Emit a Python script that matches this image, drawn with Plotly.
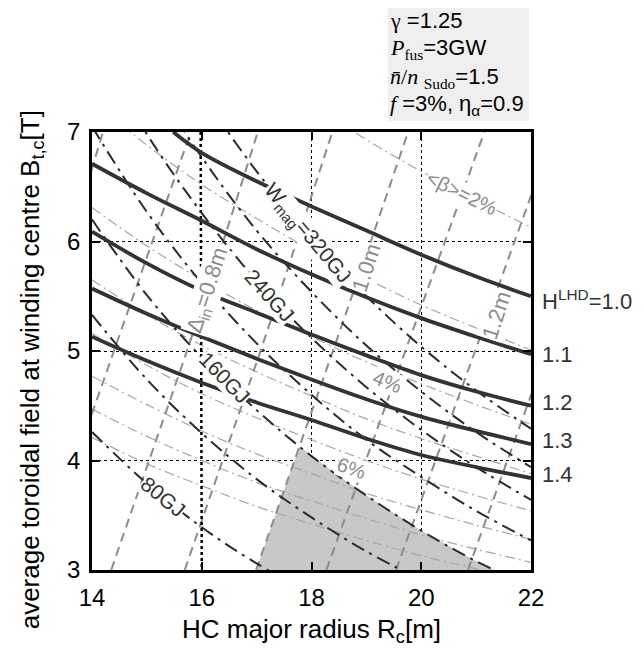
import plotly.graph_objects as go

# ---------------- data ----------------
R_GRID = [14, 15, 16, 17, 18, 19, 20, 21, 22]

# H^LHD contours (thick)
H10_R = [15.48, 16, 17, 18, 19, 20, 21, 22]
H10_B = [7.00, 6.81, 6.55, 6.32, 6.10, 5.88, 5.68, 5.50]
H11_B = [6.71, 6.44, 6.19, 5.93, 5.70, 5.49, 5.30, 5.13, 4.97]
H12_B = [6.09, 5.80, 5.55, 5.35, 5.15, 4.96, 4.78, 4.63, 4.50]
H13_B = [5.57, 5.34, 5.13, 4.93, 4.74, 4.56, 4.40, 4.27, 4.15]
H14_B = [5.13, 4.91, 4.71, 4.53, 4.37, 4.20, 4.05, 3.94, 3.84]
H_LABELS = ["H<sup>LHD</sup>=1.0", "1.1", "1.2", "1.3", "1.4"]
H_LABEL_B = [5.47, 4.97, 4.53, 4.18, 3.87]

# W_mag contours (black dash-dot), GJ
W80_B = [4.26, 3.79, 3.39, 3.06, 2.78]
W120_B = [5.33, 4.74, 4.25, 3.83, 3.48, 3.17, 2.91]
W160_B = [6.20, 5.51, 4.94, 4.46, 4.04, 3.68, 3.36, 3.08, 2.85]
W200_B = [7.05, 6.27, 5.62, 5.07, 4.60, 4.19, 3.85, 3.54, 3.27]
W240_B = [7.85, 6.98, 6.26, 5.64, 5.12, 4.67, 4.28, 3.94, 3.64]
W280_B = [8.49, 7.55, 6.77, 6.10, 5.54, 5.05, 4.63, 4.26, 3.94]
W320_B = [9.24, 8.22, 7.36, 6.64, 6.03, 5.50, 5.04, 4.64, 4.29]

# Delta_in contours (grey dashed): R at B = 3,4,5,6,7
D_B = [3, 4, 5, 6, 7]
D06_R = [11.6, 12.3, 13.0, 13.6, 14.2]
D07_R = [13.0, 13.7, 14.4, 15.1, 15.8]
D08_R = [14.35, 15.04, 15.73, 16.39, 17.02]
D09_R = [15.69, 16.38, 17.07, 17.73, 18.38]
D10_R = [16.99, 17.69, 18.39, 19.08, 19.76]
D11_R = [18.27, 18.99, 19.71, 20.43, 21.15]
D12_R = [19.54, 20.26, 20.98, 21.70, 22.42]
D13_R = [20.85, 21.57, 22.29, 23.00, 23.70]

# <beta> contours (thin grey dash-dot), %
B2_B = [8.93, 8.43, 7.99, 7.60, 7.25, 6.93, 6.64, 6.38, 6.13]
B3_B = [7.29, 6.88, 6.52, 6.21, 5.92, 5.66, 5.42, 5.21, 5.01]
B4_B = [6.31, 5.96, 5.65, 5.37, 5.13, 4.90, 4.70, 4.51, 4.33]
B5_B = [5.65, 5.33, 5.05, 4.81, 4.59, 4.38, 4.20, 4.04, 3.88]
B6_B = [5.16, 4.87, 4.61, 4.39, 4.19, 4.00, 3.83, 3.68, 3.54]
B7_B = [4.77, 4.51, 4.27, 4.06, 3.88, 3.70, 3.55, 3.41, 3.28]
B8_B = [4.47, 4.22, 4.00, 3.80, 3.63, 3.47, 3.32, 3.19, 3.07]
B9_B = [4.21, 3.97, 3.77, 3.58, 3.42, 3.27, 3.13, 3.01, 2.89]

# neutron wall load <Gamma_nw> = 1.5 MW/m2 (vertical dotted)
GNW_R = [15.98, 16.0]
GNW_B = [7.0, 3.0]

# shaded (allowed) region
SHADE_R = [16.99, 17.78, 18.0, 19.0, 20.0, 21.0, 21.33]
SHADE_B = [3.0, 4.13, 4.04, 3.68, 3.36, 3.08, 3.0]

X_TICKS = [14, 16, 18, 20, 22]
Y_TICKS = [3, 4, 5, 6, 7]

FONT = "Liberation Sans, Arial, sans-serif"
SERIF = "Liberation Serif"

fig = go.Figure()

def line(x, y, color, width, dash, shape="spline"):
    fig.add_trace(go.Scatter(x=x, y=y, mode="lines", hoverinfo="skip",
                             line=dict(color=color, width=width, dash=dash, shape=shape),
                             showlegend=False))

# shaded region
fig.add_trace(go.Scatter(x=SHADE_R, y=SHADE_B, fill="toself", fillcolor="#c8c8c8",
                         mode="lines", line=dict(width=0), hoverinfo="skip", showlegend=False))

BETA_DASH = "10px,4px,2px,4px"
for b in [B2_B, B3_B, B4_B, B5_B, B6_B, B7_B, B8_B, B9_B]:
    line(R_GRID, b, "#a6a6a6", 1.2, BETA_DASH)

D_DASH = "9px,6px"
for d in [D06_R, D07_R, D08_R, D09_R, D10_R, D11_R, D12_R, D13_R]:
    line(d, D_B, "#8c8c8c", 2, D_DASH)

line(GNW_R, GNW_B, "#000000", 2.5, "dot", "linear")

W_DASH = "14px,6px,3px,6px"
for w in [W80_B, W120_B, W160_B, W200_B, W240_B, W280_B, W320_B]:
    line(R_GRID[:len(w)], w, "#2b2b2b", 2, W_DASH)

line(H10_R, H10_B, "#333333", 3.8, "solid")
for h in [H11_B, H12_B, H13_B, H14_B]:
    line(R_GRID, h, "#333333", 3.8, "solid")

ann = []
def label(x, y, text, angle, color, size=21, bg="white"):
    ann.append(dict(x=x, y=y, xref="x", yref="y", text=text, textangle=angle,
                    showarrow=False, font=dict(family=FONT, size=size, color=color),
                    bgcolor=bg, borderpad=0))

# W_mag labels
label(15.29, 3.67, "80GJ", 39, "#333333")
label(16.42, 4.76, "160GJ", 46, "#333333")
label(17.24, 5.51, "240GJ", 48, "#333333")
label(17.93, 6.07, "W<sub>mag</sub>=320GJ", 50, "#333333")
# Delta_in labels
label(16.11, 5.55, "Δ<sub>in</sub>=0.8m", -72, "#8c8c8c", 22)
label(19.0, 5.76, "1.0m", -72, "#8c8c8c", 22)
label(21.38, 5.33, "1.2m", -72, "#8c8c8c", 22)
# beta labels
label(20.74, 6.44, "&lt;β&gt;=2%", 26, "#8c8c8c", 20)
label(19.39, 4.72, "4%", 22, "#8c8c8c", 20)
label(18.72, 3.93, "6%", 19, "#8c8c8c", 20)

# Gamma_nw label
ann.append(dict(x=16.2, y=7.21, xref="x", yref="y", showarrow=False,
                text="&lt;Γ<sub>nw</sub>&gt;=1.5MW/m<sup>2</sup>",
                font=dict(family=FONT, size=20, color="#333333")))

# H labels on the right
for t, yb in zip(H_LABELS, H_LABEL_B):
    ann.append(dict(x=1.0, y=yb, xref="paper", yref="y", xanchor="left", xshift=9,
                    showarrow=False, text=t, font=dict(family=FONT, size=22, color="#333333")))

# parameter box
box_lines = [
    f'<span style="font-family:{SERIF}">γ</span> =1.25',
    f'<span style="font-family:{SERIF}"><i>P</i><sub>fus</sub></span>=3GW',
    f'<span style="font-family:{SERIF}"><i>n̄</i>/<i>n</i> <sub>Sudo</sub></span>=1.5',
    f'<span style="font-family:{SERIF}"><i>f</i></span> =3%, η<sub>α</sub>=0.9',
]
box_y = [1.254, 1.190, 1.123, 1.061]
for t, yy in zip(box_lines, box_y):
    ann.append(dict(x=0.674, y=yy, xref="paper", yref="paper", xanchor="left", yanchor="middle",
                    showarrow=False, text=t, font=dict(family=FONT, size=22, color="#000000")))

# axis titles
ann.append(dict(x=0.5, y=-0.095, xref="paper", yref="paper", yanchor="top", showarrow=False,
                text="HC major radius R<sub>c</sub>[m]", font=dict(family=FONT, size=26, color="#000")))
ann.append(dict(x=-0.18, y=0.457, xref="paper", yref="paper", showarrow=False, textangle=-90,
                text="average toroidal field at winding centre B<sub>t,c</sub>[T]",
                font=dict(family=FONT, size=26, color="#000")))

fig.update_layout(
    width=634, height=641, autosize=False,
    margin=dict(l=84, r=111, t=124, b=79),
    paper_bgcolor="white", plot_bgcolor="white",
    font=dict(family=FONT, size=24, color="#000"),
    annotations=ann,
    shapes=[dict(type="rect", xref="paper", yref="paper", x0=0.674, x1=0.995, y0=1.025, y1=1.299,
                 fillcolor="#efefef", line=dict(width=0), layer="below")],
)
axis_common = dict(showline=True, linecolor="black", linewidth=2.5, mirror="ticks",
                   ticks="inside", ticklen=8, tickwidth=2, tickcolor="black",
                   showgrid=True, gridcolor="black", gridwidth=1, griddash="dot",
                   zeroline=False, ticklabelstandoff=4,
                   tickfont=dict(family=FONT, size=24, color="black"))
fig.update_xaxes(range=[14, 22], tickvals=X_TICKS, **axis_common)
fig.update_yaxes(range=[3, 7], tickvals=Y_TICKS, **axis_common)

fig.write_html("out.html")
